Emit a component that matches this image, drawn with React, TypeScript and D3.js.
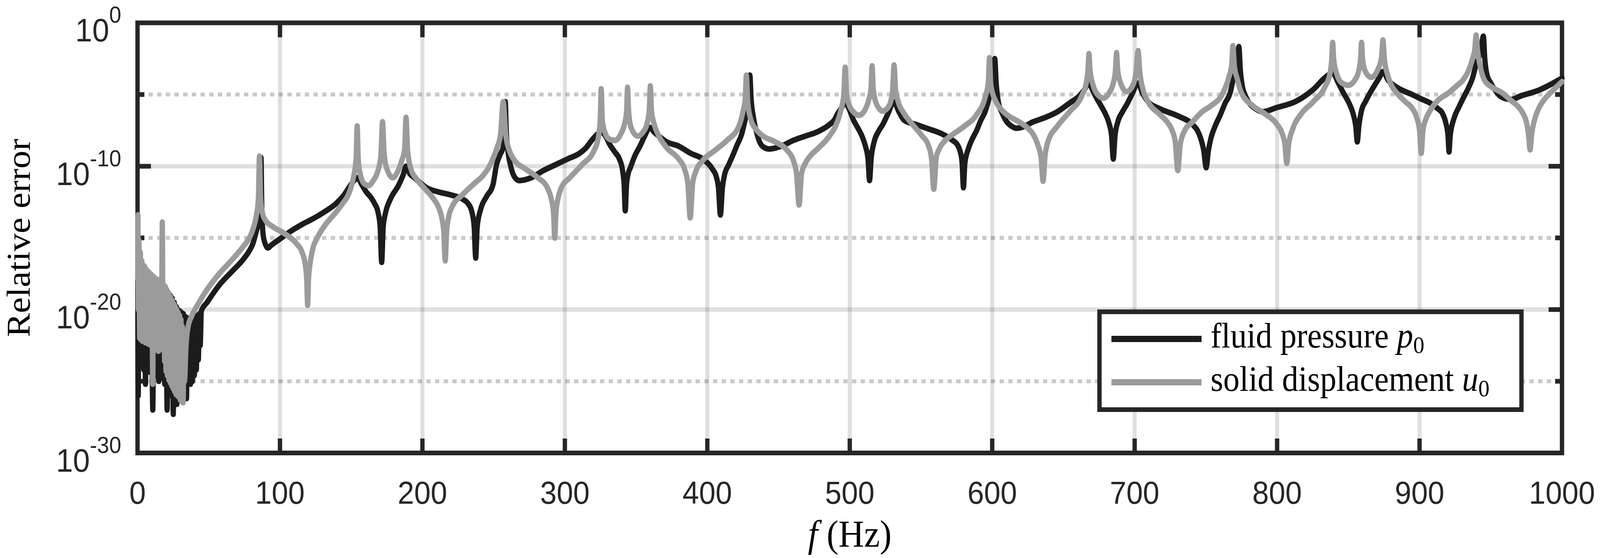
import React from "react";
import * as d3 from "d3";

const W = 4421;
const H = 1429;
const X0 = 380;
const X1 = 4316;
const Y0 = 58.5;
const Y1 = 1160;

const xTicks = [0, 100, 200, 300, 400, 500, 600, 700, 800, 900, 1000];
const xTickLabels = ["0", "100", "200", "300", "400", "500", "600", "700", "800", "900", "1000"];
const yMajorExp = [0, -10, -20, -30];
const yMinorExp = [-5, -15, -25];

// fluid pressure p0 : [frequency Hz, log10(relative error)]
const fluidPressure: [number, number][] = [
  [0.2, -18.0], [0.5, -26.0], [0.9, -19.0], [1.4, -23.5], [1.9, -19.5], [2.4, -24.0], [2.9, -19.5], [3.4, -23.8],
  [3.9, -19.6], [4.4, -24.2], [4.9, -19.7], [5.6, -25.2], [6.2, -19.7], [6.8, -24.0], [7.4, -19.8], [8.0, -24.2],
  [8.6, -19.8], [9.2, -24.4], [9.8, -19.9], [10.7, -27.0], [11.5, -19.9], [12.2, -24.5], [12.9, -20.0], [13.6, -24.6],
  [14.2, -20.0], [14.9, -25.0], [15.6, -20.0], [16.3, -24.6], [17.0, -19.5], [17.7, -24.8], [18.4, -18.5], [19.1, -25.2],
  [19.8, -18.6], [20.8, -27.0], [21.5, -18.8], [22.2, -25.8], [22.9, -19.0], [23.6, -26.0], [24.3, -19.2], [25.1, -27.3],
  [25.8, -19.5], [26.5, -26.2], [27.2, -19.8], [27.6, -26.6], [28.3, -20.0], [29.0, -25.9], [29.6, -20.1], [30.1, -26.2],
  [30.8, -20.2], [31.5, -26.0], [32.2, -20.3], [32.9, -25.8], [33.6, -20.5], [34.4, -26.2], [35.1, -20.6], [35.8, -25.0],
  [36.5, -20.6], [37.2, -25.2], [37.8, -20.6], [38.5, -25.0], [39.2, -20.6], [39.9, -24.6], [40.6, -20.5], [41.3, -24.2],
  [42.0, -20.4], [42.7, -23.5], [43.4, -20.3], [44.0, -22.5], [44.8, -20.1],
  [48.8, -19.5], [57.3, -18.3], [65.7, -17.4], [74.2, -16.5], [78.5, -15.9], [81.0, -15.4], [83.5, -14.5], [85.5, -13.7],
  [86.2, -11.5], [86.7, -9.4], [87.2, -12.6], [88.2, -14.8], [90.0, -15.5], [91.5, -15.7], [94.0, -15.5], [99.6, -15.1],
  [108.1, -14.5], [116.6, -14.0], [122.5, -13.7], [131.0, -13.2], [139.4, -12.6], [145.0, -12.0], [149.0, -11.4], [152.0, -11.0],
  [154.4, -10.8], [157.5, -11.3], [160.6, -11.8], [164.0, -12.2], [166.4, -12.6], [168.8, -13.2], [170.3, -14.2], [171.4, -16.7],
  [172.5, -14.2], [174.0, -13.3], [177.5, -12.3], [183.4, -11.3], [186.5, -10.6], [188.5, -10.0], [191.0, -10.5], [194.4, -10.8],
  [202.9, -11.5], [211.4, -11.8], [219.8, -12.0], [228.3, -12.3], [232.0, -12.6], [234.5, -13.1], [236.3, -14.2], [237.4, -16.4],
  [238.5, -14.2], [240.9, -13.0], [245.1, -12.1], [249.5, -11.3], [252.0, -9.9], [254.5, -9.2], [256.9, -8.6], [257.6, -7.0],
  [258.2, -5.5], [258.8, -7.4], [260.0, -8.9], [262.0, -10.0], [265.0, -10.8], [268.0, -11.0], [276.4, -10.8], [284.9, -10.3],
  [293.4, -9.9], [301.8, -9.5], [310.3, -9.1], [315.0, -8.7], [318.8, -8.2], [322.5, -7.8], [325.5, -7.6], [328.5, -7.9],
  [331.6, -8.5], [335.0, -9.0], [338.3, -9.5], [340.5, -10.3], [341.6, -11.3], [342.4, -13.1], [343.3, -11.3], [344.5, -10.5],
  [346.0, -10.1], [349.0, -9.3], [352.7, -8.6], [356.0, -7.9], [359.6, -7.3], [362.5, -7.6], [366.0, -7.9], [371.4, -8.3],
  [379.9, -8.6], [388.3, -9.1], [396.8, -9.5], [403.6, -10.2], [406.2, -10.7], [407.8, -11.5], [409.2, -13.4], [410.6, -11.5],
  [412.1, -10.6], [415.0, -9.9], [418.1, -9.2], [421.0, -8.5], [424.0, -7.8], [426.0, -7.0], [427.6, -6.2], [429.1, -5.0],
  [429.9, -3.65], [430.7, -5.2], [432.4, -6.6], [434.5, -7.6], [436.7, -8.3], [440.0, -8.7], [443.5, -8.8], [451.9, -8.6],
  [460.4, -8.2], [468.8, -7.9], [477.3, -7.6], [485.7, -7.1], [489.0, -6.8], [491.7, -6.3], [494.5, -5.9], [496.6, -5.5],
  [499.5, -6.0], [502.7, -6.8], [505.5, -7.3], [508.6, -7.9], [511.0, -8.6], [512.8, -9.5], [513.9, -11.0], [515.0, -9.5],
  [517.1, -8.3], [520.0, -7.6], [523.1, -7.1], [527.0, -6.3], [530.9, -5.5], [534.5, -6.2], [538.3, -6.8], [546.8, -7.1],
  [555.3, -7.4], [563.7, -7.7], [572.2, -8.2], [575.5, -8.5], [577.3, -8.9], [578.8, -9.7], [579.8, -11.5], [580.8, -9.8],
  [583.2, -8.8], [586.0, -8.1], [589.1, -7.5], [592.0, -6.8], [595.0, -6.2], [598.4, -5.0], [600.8, -3.8], [601.8, -2.5],
  [602.8, -4.2], [604.3, -5.5], [607.0, -6.3], [610.2, -6.9], [613.5, -7.2], [617.0, -7.35], [620.4, -7.3], [628.9, -6.9],
  [637.3, -6.6], [645.8, -6.2], [654.3, -5.6], [661.1, -5.1], [664.5, -4.7], [667.9, -4.2], [670.5, -4.7], [673.0, -5.2],
  [676.5, -5.8], [679.7, -6.4], [682.0, -7.0], [683.8, -7.9], [685.0, -9.5], [686.2, -7.9], [688.2, -6.9], [691.5, -6.2],
  [695.0, -5.6], [698.5, -4.9], [702.2, -4.2], [705.5, -4.9], [709.4, -5.5], [717.8, -6.0], [730.5, -6.5], [740.7, -7.1],
  [744.0, -7.5], [746.5, -8.1], [748.5, -8.9], [750.2, -10.1], [751.8, -8.9], [753.4, -8.1], [756.5, -7.2], [760.2, -6.4],
  [763.5, -5.6], [767.0, -4.9], [769.5, -3.8], [771.8, -3.0], [773.2, -1.66], [774.2, -3.3], [775.4, -4.3], [777.8, -5.1],
  [780.5, -5.6], [785.0, -6.0], [789.8, -6.2], [800.0, -5.9], [812.7, -5.5], [825.4, -4.65], [833.9, -3.8], [839.0, -3.5],
  [843.0, -4.2], [846.6, -4.9], [850.5, -5.6], [853.4, -6.35], [855.2, -7.2], [856.3, -8.3], [857.4, -7.2], [859.3, -6.1],
  [862.0, -5.5], [865.2, -4.9], [871.9, -3.8], [874.3, -3.4], [878.0, -4.0], [884.0, -4.5], [890.0, -4.8], [894.8, -5.0],
  [901.0, -5.3], [907.5, -5.6], [913.0, -6.0], [916.0, -6.3], [918.5, -7.0], [920.0, -7.9], [920.7, -9.0], [921.5, -7.9],
  [924.4, -6.6], [927.5, -5.9], [930.4, -5.3], [934.0, -4.6], [937.2, -3.85], [940.0, -2.8], [942.8, -2.1], [944.8, -0.93],
  [945.8, -2.5], [947.3, -3.6], [950.0, -4.2], [952.4, -4.6], [956.5, -5.1], [960.9, -5.3], [964.3, -5.35], [971.0, -5.1],
  [983.7, -4.7], [992.0, -4.3], [1000.0, -3.85],
];

// solid displacement u0 : [frequency Hz, log10(relative error)]
const solidDisplacement: [number, number][] = [
  [0.3, -13.4], [0.6, -20.0], [1.0, -15.2], [1.5, -22.0], [2.0, -16.0], [2.5, -22.1], [3.0, -16.6], [3.5, -22.2],
  [4.0, -16.9], [4.5, -22.2], [5.0, -17.0], [5.5, -22.3], [6.0, -17.2], [6.5, -22.2], [7.0, -17.3], [7.5, -22.4],
  [8.0, -17.4], [8.5, -22.3], [9.0, -17.5], [9.5, -22.5], [10.0, -17.6], [10.7, -25.2], [11.2, -17.7], [11.7, -22.6],
  [12.2, -17.8], [12.7, -22.8], [13.2, -17.9], [13.7, -22.8], [14.2, -17.9], [14.7, -22.9], [15.2, -18.0], [15.7, -22.8],
  [16.2, -18.1], [16.7, -22.7], [17.4, -13.9], [18.0, -22.8], [18.5, -18.3], [19.0, -23.6], [19.5, -18.4], [20.0, -24.3],
  [20.5, -18.6], [21.0, -24.6], [21.5, -18.8], [22.0, -24.9], [22.5, -19.0], [23.0, -25.1], [23.5, -19.2], [24.0, -25.3],
  [24.5, -19.4], [25.0, -25.5], [25.5, -19.6], [26.0, -25.7], [26.5, -19.8], [27.0, -25.9], [27.5, -20.0], [28.0, -26.0],
  [28.5, -20.2], [29.0, -26.1], [29.5, -20.4], [30.0, -26.3], [30.5, -20.7], [31.0, -26.4], [31.5, -21.2], [32.0, -26.5],
  [32.5, -22.5], [33.0, -25.0],
  [34.0, -22.6], [35.5, -21.2], [37.8, -20.5], [42.0, -19.7], [48.8, -18.6], [57.3, -17.5], [65.7, -16.6], [74.2, -15.6],
  [78.5, -15.0], [81.0, -14.4], [83.3, -13.5], [84.8, -12.3], [85.6, -9.3], [86.4, -12.2], [87.8, -13.3], [90.0, -13.8],
  [94.7, -14.2], [103.2, -14.7], [111.6, -15.4], [115.5, -16.0], [117.8, -16.9], [118.8, -18.0], [119.4, -19.7], [120.0, -18.0],
  [121.0, -16.9], [122.5, -16.0], [126.7, -14.9], [131.0, -14.2], [139.4, -13.2], [144.0, -12.6], [147.9, -12.0], [151.3, -10.9],
  [153.4, -9.5], [154.2, -7.2], [155.0, -9.6], [156.5, -10.6], [159.0, -11.2], [162.3, -11.35], [165.5, -11.0], [168.5, -10.4],
  [170.8, -9.3], [172.0, -6.9], [173.2, -9.2], [175.5, -10.3], [179.2, -10.8], [182.5, -10.4], [185.5, -9.6], [187.5, -8.8],
  [188.5, -6.6], [189.6, -8.9], [192.0, -10.2], [196.0, -10.9], [202.0, -11.6], [208.0, -12.3], [211.5, -12.9], [213.8, -13.7],
  [215.0, -14.6], [216.0, -16.6], [217.0, -14.6], [218.5, -13.5], [221.0, -12.8], [228.0, -12.0], [236.5, -11.2], [243.0, -10.6],
  [247.0, -10.0], [252.0, -8.8], [254.8, -7.8], [256.7, -5.5], [258.5, -7.8], [261.0, -8.9], [264.0, -9.5], [272.5, -10.2],
  [281.0, -10.8], [287.7, -11.5], [290.5, -12.3], [292.0, -13.2], [292.9, -15.0], [293.8, -13.2], [295.3, -12.2], [297.5, -11.5],
  [303.5, -10.8], [312.0, -9.9], [320.5, -8.9], [323.5, -8.0], [324.8, -6.8], [325.5, -4.6], [326.3, -6.8], [328.0, -7.6],
  [331.0, -8.1], [335.0, -8.2], [339.0, -7.8], [342.0, -7.0], [343.3, -6.2], [344.0, -4.5], [344.8, -6.2], [346.5, -7.3],
  [351.1, -7.9], [355.0, -7.6], [358.0, -6.9], [359.3, -6.0], [360.0, -4.4], [360.8, -6.1], [362.5, -7.0], [365.5, -7.8],
  [371.4, -8.7], [379.9, -9.5], [384.0, -10.2], [386.3, -11.2], [388.0, -13.6], [389.7, -11.2], [391.8, -10.4], [396.8, -9.6],
  [405.3, -8.9], [413.8, -8.2], [422.2, -7.2], [425.0, -6.2], [426.6, -5.3], [427.4, -3.65], [428.3, -5.4], [430.7, -6.8],
  [434.0, -7.4], [439.2, -7.9], [447.6, -8.3], [456.1, -8.9], [460.0, -9.5], [462.6, -10.5], [464.4, -12.7], [466.2, -10.5],
  [468.8, -9.8], [473.0, -9.2], [477.3, -8.8], [485.7, -7.9], [490.0, -7.2], [493.5, -6.2], [495.8, -5.0], [496.8, -3.1],
  [497.8, -5.0], [499.5, -5.7], [502.5, -6.2], [506.5, -6.45], [510.5, -6.1], [513.5, -5.3], [514.9, -4.6], [515.7, -3.0],
  [516.5, -4.6], [518.5, -5.6], [523.1, -6.15], [527.5, -5.8], [530.0, -4.8], [531.1, -2.94], [532.2, -4.7], [534.0, -5.5],
  [538.0, -6.3], [542.5, -6.9], [550.9, -7.9], [555.0, -8.5], [557.3, -9.4], [559.0, -11.6], [560.7, -9.4], [562.8, -8.8],
  [567.0, -8.2], [572.1, -7.8], [580.6, -7.2], [589.1, -6.4], [595.0, -5.2], [597.2, -4.2], [598.1, -2.44], [599.0, -4.3],
  [602.6, -5.5], [606.0, -6.0], [610.2, -6.4], [618.7, -6.9], [624.5, -7.3], [628.9, -7.8], [632.0, -8.5], [634.3, -9.4],
  [635.7, -11.05], [637.1, -9.3], [639.1, -8.3], [645.8, -7.2], [654.3, -6.2], [662.8, -5.1], [666.0, -4.2], [667.2, -3.3],
  [667.9, -2.15], [668.7, -3.3], [671.0, -4.4], [674.0, -5.0], [678.0, -5.25], [682.0, -4.9], [685.0, -4.2], [686.5, -3.3],
  [687.3, -2.08], [688.1, -3.3], [690.5, -4.3], [694.3, -4.8], [698.5, -4.4], [701.0, -3.4], [702.4, -1.94], [703.6, -3.4],
  [706.0, -4.7], [709.4, -5.5], [717.8, -6.4], [723.5, -7.0], [726.3, -7.5], [728.5, -8.3], [730.3, -10.3], [732.0, -8.5],
  [734.7, -7.6], [740.7, -6.9], [747.4, -6.2], [753.4, -5.8], [761.9, -4.9], [766.1, -3.8], [768.1, -2.9], [769.0, -1.6],
  [770.0, -3.0], [772.0, -3.9], [774.6, -4.8], [783.1, -5.8], [791.5, -6.35], [800.0, -7.1], [803.5, -7.7], [805.5, -8.5],
  [806.8, -9.8], [808.1, -8.5], [811.0, -7.4], [816.9, -6.35], [825.4, -5.5], [833.9, -4.4], [837.2, -3.5], [838.3, -2.6],
  [839.0, -1.37], [839.8, -2.6], [842.0, -3.6], [845.5, -4.2], [850.0, -4.35], [854.5, -4.0], [857.6, -3.2], [858.6, -2.5],
  [859.3, -1.37], [860.0, -2.5], [862.0, -3.4], [866.1, -3.8], [870.5, -3.3], [873.3, -2.4], [874.3, -1.2], [875.3, -2.5],
  [877.5, -3.6], [880.0, -4.3], [885.0, -5.0], [890.0, -5.5], [894.8, -5.95], [898.0, -6.6], [900.0, -7.5], [901.2, -9.1],
  [902.4, -7.5], [904.5, -6.7], [907.5, -6.1], [913.0, -5.4], [920.2, -4.9], [926.0, -4.4], [930.4, -4.0], [934.5, -3.3],
  [937.2, -2.5], [938.8, -1.8], [939.7, -0.85], [940.7, -1.9], [942.5, -3.0], [945.6, -4.0], [951.0, -4.5], [958.3, -4.9],
  [964.0, -5.4], [969.3, -5.85], [972.5, -6.3], [975.2, -7.0], [976.5, -7.8], [977.6, -8.86], [978.7, -7.8], [981.2, -6.6],
  [984.0, -5.9], [988.0, -5.3], [994.8, -4.6], [1000.0, -4.1],
];

const seriesNames = ["fluid pressure", "solid displacement"];
const seriesSymbols = ["p", "u"];
const seriesColors = ["#1c1c1c", "#9b9b9b"];

const AXIS = "#262626";
const LW = 14.5;

export default function App() {
  const x = d3.scaleLinear().domain([0, 1000]).range([X0, X1]);
  const y = d3.scaleLog().domain([1e-30, 1]).range([Y1, Y0]);
  const line = d3
    .line<[number, number]>()
    .x((d) => x(d[0]))
    .y((d) => y(Math.pow(10, d[1])))
    .curve(d3.curveMonotoneX);

  const series = [fluidPressure, solidDisplacement];
  const tickFont = "'Liberation Sans', Arial, Helvetica, sans-serif";
  const serif = "'Liberation Serif', 'Times New Roman', serif";

  const legX = 3038;
  const legY = 798.5;
  const legW = 1166;
  const legH = 250.5;
  const legRows = [868, 979];

  return (
    <svg
      viewBox={`0 0 ${W} ${H}`}
      preserveAspectRatio="none"
      style={{ position: "fixed", left: 0, top: 0, width: "100vw", height: "100vh", background: "#fff", display: "block" }}
    >
      <rect x={0} y={0} width={W} height={H} fill="#ffffff" />

      {/* grid */}
      <g>
        {xTicks.slice(1, -1).map((t) => (
          <line key={"gx" + t} x1={x(t)} x2={x(t)} y1={Y0} y2={Y1} stroke={AXIS} strokeOpacity={0.15} strokeWidth={11} />
        ))}
        {yMajorExp.slice(1, -1).map((e) => (
          <line key={"gy" + e} x1={X0} x2={X1} y1={y(Math.pow(10, e))} y2={y(Math.pow(10, e))} stroke={AXIS} strokeOpacity={0.15} strokeWidth={11} />
        ))}
        {yMinorExp.map((e) => (
          <line key={"gm" + e} x1={X0 + 6} x2={X1} y1={y(Math.pow(10, e))} y2={y(Math.pow(10, e))} stroke={AXIS} strokeOpacity={0.25} strokeWidth={10} strokeDasharray="12 12" />
        ))}
      </g>

      {/* axes box and ticks */}
      <g stroke={AXIS} strokeWidth={12}>
        <rect x={X0} y={Y0} width={X1 - X0} height={Y1 - Y0} fill="none" strokeLinejoin="miter" />
        {xTicks.slice(1, -1).map((t) => (
          <g key={"tx" + t}>
            <line x1={x(t)} x2={x(t)} y1={Y1} y2={Y1 - 37} />
            <line x1={x(t)} x2={x(t)} y1={Y0} y2={Y0 + 37} />
          </g>
        ))}
        {yMajorExp.slice(1, -1).map((e) => (
          <g key={"ty" + e}>
            <line x1={X0} x2={X0 + 37} y1={y(Math.pow(10, e))} y2={y(Math.pow(10, e))} />
            <line x1={X1} x2={X1 - 37} y1={y(Math.pow(10, e))} y2={y(Math.pow(10, e))} />
          </g>
        ))}
        {yMinorExp.map((e) => (
          <g key={"tm" + e}>
            <line x1={X0} x2={X0 + 19} y1={y(Math.pow(10, e))} y2={y(Math.pow(10, e))} />
            <line x1={X1} x2={X1 - 19} y1={y(Math.pow(10, e))} y2={y(Math.pow(10, e))} />
          </g>
        ))}
      </g>

      {/* tick labels */}
      <g fill={AXIS} fontFamily={tickFont}>
        {xTicks.map((t, i) => (
          <text key={"lx" + t} x={x(t)} y={1290} fontSize={82} textAnchor="middle">
            {xTickLabels[i]}
          </text>
        ))}
        {yMajorExp.map((e) => (
          <text key={"ly" + e} x={335} y={y(Math.pow(10, e)) + 48} fontSize={84} textAnchor="end">
            <tspan>10</tspan>
            <tspan fontSize={60} dy={-48}>
              {e === 0 ? "0" : "-" + String(-e)}
            </tspan>
          </text>
        ))}
      </g>

      {/* axis labels */}
      <text
        transform={`translate(82, ${(Y0 + Y1) / 2}) rotate(-90)`}
        textAnchor="middle"
        fontFamily={serif}
        fontSize={92}
        fill="#000"
      >
        Relative error
      </text>
      <text x={(X0 + X1) / 2} y={1400} textAnchor="middle" fontFamily={serif} fontSize={98} fill="#000">
        <tspan fontStyle="italic">f</tspan>
        <tspan> (Hz)</tspan>
      </text>

      {/* data */}
      <g fill="none" strokeLinejoin="round" strokeLinecap="round">
        {series.map((s, i) => (
          <path key={"s" + i} d={line(s) || ""} stroke={seriesColors[i]} strokeWidth={LW} />
        ))}
      </g>

      {/* legend */}
      <g>
        <rect x={legX} y={legY} width={legW} height={legH} fill="#fff" stroke={AXIS} strokeWidth={12} />
        {seriesNames.map((name, i) => (
          <g key={"lg" + i}>
            <line x1={3071} x2={3320} y1={legRows[i]} y2={legRows[i]} stroke={seriesColors[i]} strokeWidth={16} />
            <text x={3345} y={legRows[i] + 22} fontFamily={serif} fontSize={90} fill="#000">
              <tspan>{name + " "}</tspan>
              <tspan fontStyle="italic">{seriesSymbols[i]}</tspan>
              <tspan fontSize={62} dy={14}>0</tspan>
            </text>
          </g>
        ))}
      </g>
    </svg>
  );
}
